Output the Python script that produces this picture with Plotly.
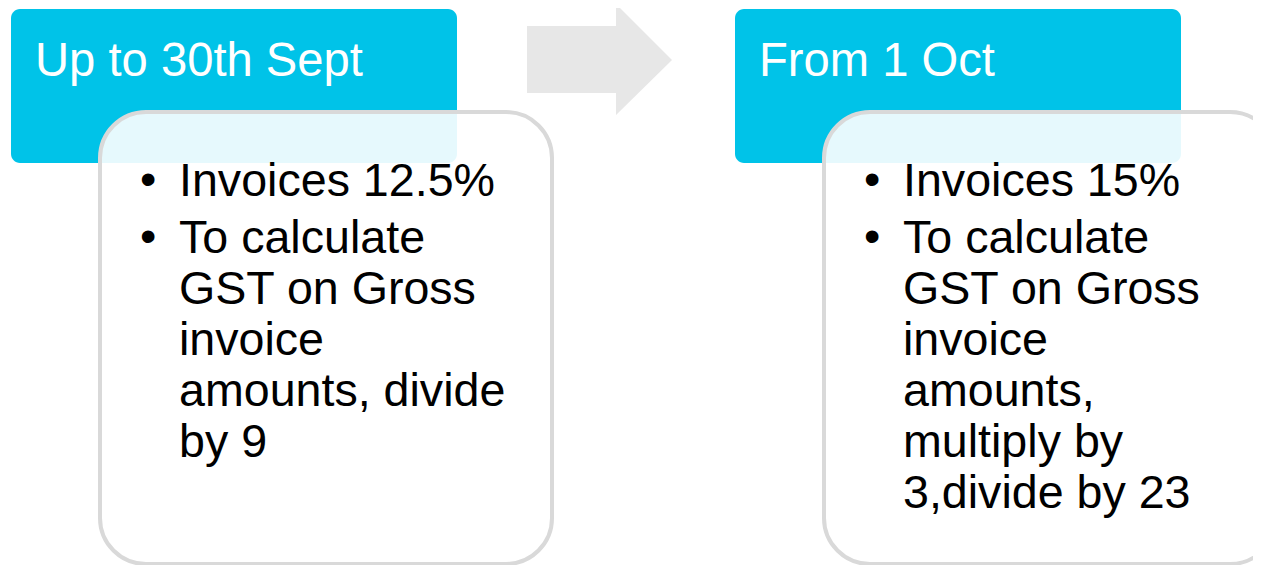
import plotly.graph_objects as go

# ---- content ----
stage_titles = ["Up to 30th Sept", "From 1 Oct"]
stage1_bullets = [["Invoices 12.5%"],
                  ["To calculate", "GST on Gross", "invoice", "amounts, divide", "by 9"]]
stage2_bullets = [["Invoices 15%"],
                  ["To calculate", "GST on Gross", "invoice", "amounts,", "multiply by", "3,divide by 23"]]
stage_bullets = [stage1_bullets, stage2_bullets]

# ---- layout / style ----
W, H = 1261, 565
PAGE_MARGIN = 8  # default body margin of the html page
FONT = "Arial, Liberation Sans, sans-serif"
HEADER_COLOR = "#00c3e8"
BODY_LINE = "#d9d9d9"
ARROW_COLOR = "#e7e7e7"
header_x = [11, 735]
header_w, header_y0, header_y1 = 446, 9, 163
body_dx, body_w, body_y0, body_y1 = 89, 452, 112, 564
FS = 46.6
TITLE_FS = 47.2
first_line_y = 180
line_step = 51
para_gap = 6


def rrect(x0, y0, x1, y1, r):
    k = 0.5523 * r
    return (f"M {x0+r},{y0} L {x1-r},{y0} C {x1-r+k},{y0} {x1},{y0+r-k} {x1},{y0+r} "
            f"L {x1},{y1-r} C {x1},{y1-r+k} {x1-r+k},{y1} {x1-r},{y1} "
            f"L {x0+r},{y1} C {x0+r-k},{y1} {x0},{y1-r+k} {x0},{y1-r} "
            f"L {x0},{y0+r} C {x0},{y0+r-k} {x0+r-k},{y0} {x0+r},{y0} Z")


fig = go.Figure()
shapes = []
annotations = []

# arrow
shapes.append(dict(type="path", xref="x", yref="y",
                   path="M 527,26 L 616,26 L 616,4 L 672,60 L 616,115 L 616,93 L 527,93 Z",
                   fillcolor=ARROW_COLOR, line=dict(width=0), layer="below"))

for i, title in enumerate(stage_titles):
    hx = header_x[i]
    shapes.append(dict(type="path", xref="x", yref="y",
                       path=rrect(hx, header_y0, hx + header_w, header_y1, 9),
                       fillcolor=HEADER_COLOR, line=dict(width=0), layer="below"))
    bx = hx + body_dx
    shapes.append(dict(type="path", xref="x", yref="y",
                       path=rrect(bx, body_y0, bx + body_w, body_y1, 46),
                       fillcolor="rgba(255,255,255,0.9)", line=dict(color=BODY_LINE, width=4),
                       layer="below"))
    annotations.append(dict(x=hx + 22, y=59, xref="x", yref="y", text=title,
                            showarrow=False, xanchor="left", yanchor="middle",
                            font=dict(family=FONT, size=TITLE_FS, color="white")))
    y = first_line_y
    for bullet in stage_bullets[i]:
        annotations.append(dict(x=bx + 38, y=y - 1, xref="x", yref="y", text="•",
                                showarrow=False, xanchor="left", yanchor="middle",
                                font=dict(family=FONT, size=FS, color="black")))
        for line in bullet:
            annotations.append(dict(x=bx + 77, y=y, xref="x", yref="y", text=line,
                                    showarrow=False, xanchor="left", yanchor="middle",
                                    font=dict(family=FONT, size=FS, color="black")))
            y += line_step
        y += para_gap

fig.update_layout(
    width=W - PAGE_MARGIN, height=H - PAGE_MARGIN, margin=dict(l=0, r=0, t=0, b=0),
    paper_bgcolor="white", plot_bgcolor="white",
    xaxis=dict(range=[PAGE_MARGIN, W], visible=False, fixedrange=True),
    yaxis=dict(range=[H, PAGE_MARGIN], visible=False, fixedrange=True),
    shapes=shapes, annotations=annotations, showlegend=False,
)
fig.write_html("out.html")
